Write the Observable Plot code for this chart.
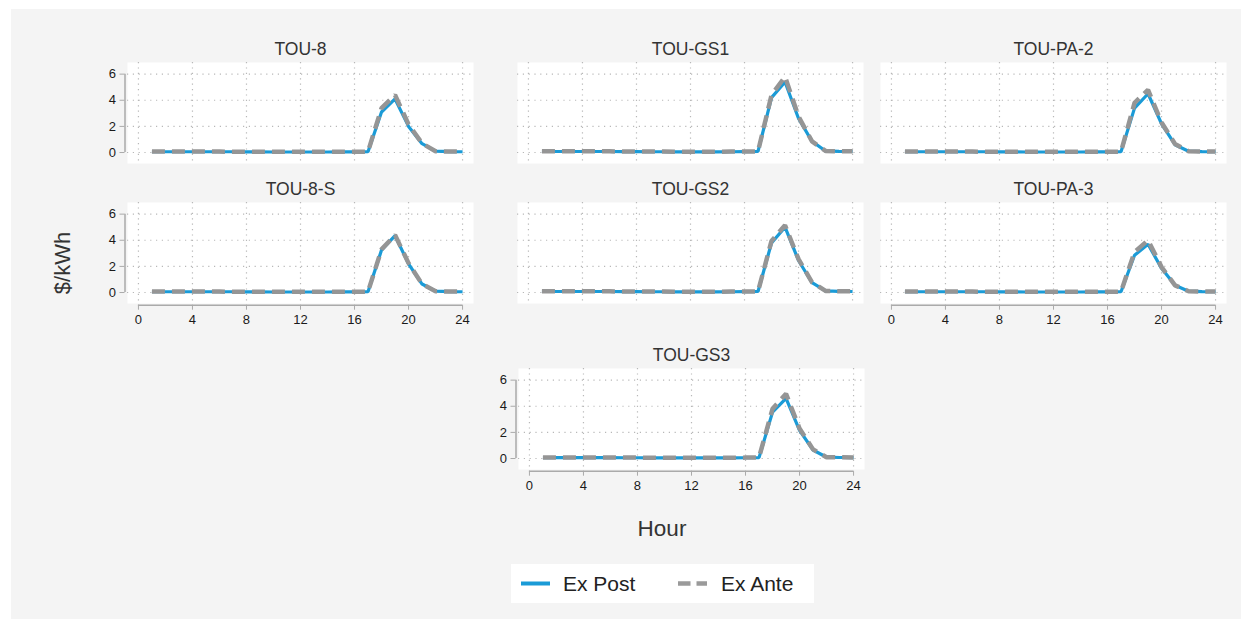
<!DOCTYPE html>
<html><head><meta charset="utf-8">
<script src="https://cdn.jsdelivr.net/npm/d3@7"></script>
<script src="https://cdn.jsdelivr.net/npm/@observablehq/plot@0.6"></script>
<style>
html,body{margin:0;padding:0;background:#fff;}
#root{position:relative;width:1252px;height:626px;background:#fff;font-family:"Liberation Sans",Arial,sans-serif;overflow:hidden}
#bg{position:absolute;left:11px;top:9px;width:1230px;height:610px;background:#f4f4f4}
.panel{position:absolute}
.lbl{position:absolute;color:#333;white-space:nowrap}
</style></head>
<body><div id="root"><div id="bg"></div></div>
<script>
// ---- data ----
const hours = [1,2,3,4,5,6,7,8,9,10,11,12,13,14,15,16,17,18,19,20,21,22,23,24];
const xTicks = [0,4,8,12,16,20,24];
const yTicks = [0,2,4,6];
const seriesNames = ["Ex Post","Ex Ante"];
const panelNames = ["TOU-8","TOU-GS1","TOU-PA-2","TOU-8-S","TOU-GS2","TOU-PA-3","TOU-GS3"];

const tou8Post   = [0.07,0.06,0.06,0.06,0.06,0.06,0.06,0.05,0.05,0.04,0.04,0.04,0.04,0.04,0.05,0.05,0.06,3.10,4.10,2.00,0.68,0.10,0.07,0.06];
const tou8Ante   = [0.08,0.07,0.07,0.07,0.07,0.07,0.06,0.06,0.05,0.05,0.05,0.05,0.05,0.05,0.05,0.06,0.07,3.40,4.40,2.15,0.70,0.10,0.08,0.07];
const touGS1Post = [0.08,0.08,0.08,0.08,0.08,0.08,0.07,0.07,0.06,0.06,0.05,0.05,0.05,0.05,0.06,0.07,0.08,4.20,5.40,2.60,0.85,0.12,0.09,0.08];
const touGS1Ante = [0.09,0.09,0.09,0.09,0.09,0.09,0.08,0.08,0.07,0.07,0.06,0.06,0.06,0.06,0.07,0.08,0.09,4.40,5.80,2.75,0.85,0.12,0.10,0.09];
const touPA2Post = [0.07,0.06,0.06,0.06,0.06,0.06,0.06,0.05,0.05,0.04,0.04,0.04,0.04,0.04,0.05,0.05,0.06,3.40,4.50,2.20,0.60,0.10,0.07,0.06];
const touPA2Ante = [0.08,0.07,0.07,0.07,0.07,0.07,0.06,0.06,0.05,0.05,0.05,0.05,0.05,0.05,0.05,0.06,0.07,3.80,4.80,2.30,0.65,0.10,0.08,0.07];
const tou8SPost  = [0.07,0.06,0.06,0.06,0.06,0.06,0.06,0.05,0.05,0.04,0.04,0.04,0.04,0.04,0.05,0.05,0.06,3.25,4.35,2.20,0.65,0.10,0.07,0.06];
const tou8SAnte  = [0.08,0.07,0.07,0.07,0.07,0.07,0.06,0.06,0.05,0.05,0.05,0.05,0.05,0.05,0.05,0.06,0.07,3.30,4.40,2.25,0.65,0.10,0.08,0.07];
const touGS2Post = [0.08,0.08,0.08,0.08,0.08,0.08,0.07,0.07,0.06,0.06,0.05,0.05,0.05,0.05,0.06,0.07,0.08,3.80,5.00,2.45,0.75,0.12,0.09,0.08];
const touGS2Ante = [0.09,0.09,0.09,0.09,0.09,0.09,0.08,0.08,0.07,0.07,0.06,0.06,0.06,0.06,0.07,0.08,0.09,3.95,5.15,2.55,0.78,0.12,0.10,0.09];
const touPA3Post = [0.07,0.06,0.06,0.06,0.06,0.06,0.06,0.05,0.05,0.04,0.04,0.04,0.04,0.04,0.05,0.05,0.06,2.85,3.70,1.85,0.55,0.10,0.07,0.06];
const touPA3Ante = [0.08,0.07,0.07,0.07,0.07,0.07,0.06,0.06,0.05,0.05,0.05,0.05,0.05,0.05,0.05,0.06,0.07,3.10,4.00,1.95,0.55,0.10,0.08,0.07];
const touGS3Post = [0.07,0.07,0.07,0.07,0.07,0.07,0.06,0.06,0.05,0.05,0.05,0.05,0.05,0.05,0.05,0.06,0.07,3.55,4.60,2.15,0.65,0.10,0.08,0.07];
const touGS3Ante = [0.08,0.08,0.08,0.08,0.08,0.08,0.07,0.07,0.06,0.06,0.06,0.06,0.06,0.06,0.06,0.07,0.08,3.80,4.95,2.30,0.70,0.10,0.09,0.08];

const postSeries = [tou8Post,touGS1Post,touPA2Post,tou8SPost,touGS2Post,touPA3Post,touGS3Post];
const anteSeries = [tou8Ante,touGS1Ante,touPA2Ante,tou8SAnte,touGS2Ante,touPA3Ante,touGS3Ante];

// ---- layout / style ----
const BLUE = "#1a9bd7", GRAY = "#959595", AXIS = "#aaaaaa", GRID = "#b8b8b8";
const FRAME_W = 346, FRAME_H = 101;
const ML = 50, MR = 12, MT = 30, MB = 32;
const xDomain = [-0.81, 24.81], yDomain = [-0.84, 6.89];
const layout = [
  {left:126.7, top:61.7,  yAxis:true,  xAxis:false},
  {left:516.7, top:61.7,  yAxis:false, xAxis:false},
  {left:880,   top:61.7,  yAxis:false, xAxis:false},
  {left:126.7, top:201.7, yAxis:true,  xAxis:true},
  {left:516.7, top:201.7, yAxis:false, xAxis:false},
  {left:880,   top:201.7, yAxis:false, xAxis:true},
  {left:517.5, top:368.3, yAxis:true,  xAxis:true}
];

const root = document.getElementById("root");

panelNames.forEach((name, k) => {
  const L = layout[k];
  const data = hours.map((h, i) => ({hour: h, post: postSeries[k][i], ante: anteSeries[k][i]}));
  const marks = [
    Plot.frame({fill: "white", stroke: "none"}),
    Plot.gridX({ticks: xTicks, stroke: GRID, strokeOpacity: 1, strokeWidth: 1.2, strokeDasharray: "1.2,4.2"}),
    Plot.gridY({ticks: yTicks, stroke: GRID, strokeOpacity: 1, strokeWidth: 1.2, strokeDasharray: "1.2,4.6"}),
    Plot.line(data, {x: "hour", y: "post", stroke: BLUE, strokeWidth: 3.2, strokeLinecap: "butt", strokeLinejoin: "miter"}),
    Plot.line(data, {x: "hour", y: "ante", stroke: GRAY, strokeWidth: 4.5, strokeDasharray: "13,7", strokeLinecap: "butt", strokeLinejoin: "miter"}),
    Plot.text([name], {frameAnchor: "top", lineAnchor: "middle", dy: -12.7, fontSize: 17.5, fill: "#333"})
  ];
  if (L.yAxis) {
    marks.push(Plot.ruleX([xDomain[0]], {y1: 0, y2: 6, dx: -2.5, stroke: AXIS, strokeWidth: 1.5}));
    marks.push(Plot.axisY({ticks: yTicks, tickSize: 5, tickPadding: 4, dx: -2.5, stroke: AXIS, fill: "#1a1a1a", fontSize: 13, label: null}));
  }
  if (L.xAxis) {
    marks.push(Plot.ruleY([yDomain[0]], {x1: 0, x2: 24, dy: 1.7, stroke: AXIS, strokeWidth: 1.5}));
    marks.push(Plot.axisX({ticks: xTicks, tickSize: 5, tickPadding: 4.5, dy: 1.7, stroke: AXIS, fill: "#1a1a1a", fontSize: 13, label: null}));
  }
  const chart = Plot.plot({
    width: FRAME_W + ML + MR,
    height: FRAME_H + MT + MB,
    marginLeft: ML, marginRight: MR, marginTop: MT, marginBottom: MB,
    x: {domain: xDomain, axis: L.xAxis ? undefined : null},
    y: {domain: yDomain, axis: L.yAxis ? undefined : null},
    style: {background: "transparent", overflow: "visible", fontFamily: "Liberation Sans, Arial, sans-serif", fontSize: "13px"},
    marks
  });
  chart.classList.add("panel");
  chart.style.left = (L.left - ML) + "px";
  chart.style.top = (L.top - MT) + "px";
  chart.style.maxWidth = "none";
  root.appendChild(chart);
});

// axis titles
const yl = document.createElement("div");
yl.className = "lbl";
yl.textContent = "$/kWh";
yl.style.cssText += "left:62.5px;top:263px;font-size:22px;transform:translate(-50%,-50%) rotate(-90deg);";
root.appendChild(yl);

const xl = document.createElement("div");
xl.className = "lbl";
xl.textContent = "Hour";
xl.style.cssText += "left:662px;top:529px;font-size:22.5px;transform:translate(-50%,-50%);";
root.appendChild(xl);

// legend
const lg = document.createElementNS("http://www.w3.org/2000/svg", "svg");
lg.setAttribute("width", 303); lg.setAttribute("height", 39);
lg.style.cssText = "position:absolute;left:511px;top:564px;background:#fff;font-family:Liberation Sans, Arial, sans-serif";
const legendItems = [
  {x: 10, tx: 52, color: BLUE, width: 4, dash: null},
  {x: 167, tx: 210, color: "#9a9a9a", width: 4.5, dash: "12.5,6"}
];
legendItems.forEach((it, i) => {
  const ln = document.createElementNS("http://www.w3.org/2000/svg", "line");
  ln.setAttribute("x1", it.x); ln.setAttribute("x2", it.x + 29);
  ln.setAttribute("y1", 19.5); ln.setAttribute("y2", 19.5);
  ln.setAttribute("stroke", it.color); ln.setAttribute("stroke-width", it.width);
  if (it.dash) ln.setAttribute("stroke-dasharray", it.dash);
  lg.appendChild(ln);
  const t = document.createElementNS("http://www.w3.org/2000/svg", "text");
  t.setAttribute("x", it.tx); t.setAttribute("y", 27);
  t.setAttribute("font-size", 21); t.setAttribute("fill", "#222");
  t.textContent = seriesNames[i];
  lg.appendChild(t);
});
root.appendChild(lg);
</script>
</body></html>
